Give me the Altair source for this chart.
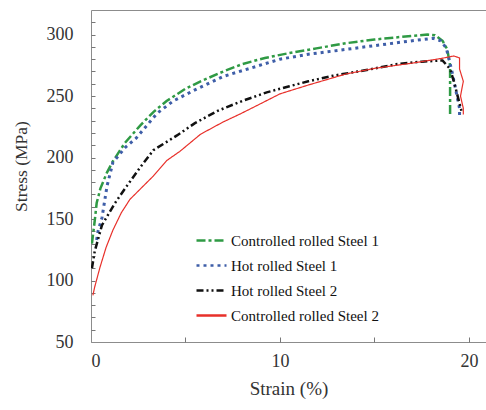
import altair as alt
import pandas as pd

series_names = ["Controlled rolled Steel 1", "Hot rolled Steel 1",
                "Hot rolled Steel 2", "Controlled rolled Steel 2"]
series_colors = ["#2f9a44", "#3e5ea8", "#111111", "#e8302a"]
series_dashes = [[9, 3, 3, 3], [3, 4], [7, 3, 2, 3, 2, 3], [1, 0]]
series_widths = [2.5, 3.0, 2.5, 1.2]

cr1_strain = [0.05, 0.2, 0.3, 0.5, 0.85, 1.16, 1.5, 1.8, 2.6, 3.3, 4.0, 5.0, 5.8, 7.0, 8.0, 9.2,
              10.5, 12.0, 13.5, 15.0, 16.0, 17.0, 17.8, 18.2, 18.6, 18.85, 19.0, 19.0, 19.0]
cr1_stress = [130, 149, 163, 175, 188, 197, 205, 212, 226, 237, 246, 256, 262, 270, 276, 281,
              285, 289, 293, 296, 297.5, 299, 300, 299.5, 295, 288, 275, 255, 235]

hr1_strain = [0.3, 0.37, 0.58, 0.85, 1.16, 1.8, 2.4, 3.5, 4.35, 5.5, 7.0, 8.5, 10.0, 11.5,
              13.5, 15.0, 17.0, 18.1, 18.5, 18.8, 19.1, 19.3, 19.5, 19.5]
hr1_stress = [133, 140, 151, 177, 196, 208, 216, 236, 246, 255, 266, 273, 280, 284,
              288, 291, 295, 297, 295, 289, 270, 255, 240, 232]

hr2_strain = [0.05, 0.2, 0.58, 1.27, 1.9, 2.6, 3.3, 4.55, 5.5, 6.7, 8.0, 9.3, 10.5, 11.5,
              12.8, 14.5, 16.2, 17.5, 18.6, 19.0, 19.2, 19.4, 19.6]
hr2_stress = [110, 124, 145, 163, 177, 192, 206, 218, 228, 238, 246, 253, 258, 262,
              266.5, 271, 276, 278, 279, 272, 262, 250, 238]

cr2_strain = [0.1, 0.2, 0.48, 0.8, 1.16, 1.6, 2.06, 3.3, 4.0, 4.7, 5.8, 7.0, 7.9, 9.0,
              10.0, 11.5, 13.5, 15.0, 17.0, 18.5, 19.2, 19.5, 19.5, 19.7, 19.55, 19.7, 19.7]
cr2_stress = [88, 95, 111, 127, 141, 155, 166, 185, 197.5, 205, 219, 229, 235.5, 244,
              251.8, 259, 268, 272.5, 276.8, 280.5, 282.6, 281, 272, 262, 250, 240, 235]

x_ticks_major = [0, 10, 20]
x_ticks_all = [0, 5, 10, 15, 20]
y_ticks_major = [50, 100, 150, 200, 250, 300]
y_ticks_all = list(range(60, 320, 10))

rows = []
for name, w, xs, ys in zip(series_names, series_widths,
                           [cr1_strain, hr1_strain, hr2_strain, cr2_strain],
                           [cr1_stress, hr1_stress, hr2_stress, cr2_stress]):
    for i, (xv, yv) in enumerate(zip(xs, ys)):
        rows.append({"series": name, "strain": xv, "stress": yv, "idx": i, "w": w})
df = pd.DataFrame(rows)

W, H = 395, 332
FONT = "Liberation Serif"
GRAY = "#8c8c8c"

x_scale = alt.Scale(domain=[0, 20.9], nice=False, zero=False)
y_scale = alt.Scale(domain=[50, 320], nice=False, zero=False)

legend = alt.Legend(orient="none", legendX=104, legendY=214, title=None,
                    labelFont=FONT, labelFontSize=15, labelColor="#111111",
                    symbolType="stroke", symbolSize=900, symbolStrokeWidth=2.5,
                    rowPadding=-10.5, labelOffset=3, padding=0, labelLimit=400)

lines = alt.Chart(df).mark_line(clip=True).encode(
    x=alt.X("strain:Q", scale=x_scale,
            axis=alt.Axis(values=x_ticks_major, ticks=False, grid=False, labelFont=FONT,
                          labelFontSize=18, labelColor="#333333", labelPadding=10,
                          domainColor=GRAY, title="Strain (%)", titleFont=FONT,
                          titleFontSize=19, titleFontWeight="normal", titleColor="#333333",
                          titlePadding=9)),
    y=alt.Y("stress:Q", scale=y_scale,
            axis=alt.Axis(values=y_ticks_major, ticks=False, grid=False, labelFont=FONT,
                          labelFontSize=18, labelColor="#333333", labelPadding=18,
                          domainColor=GRAY, title="Stress (MPa)", titleFont=FONT,
                          titleFontSize=17.5, titleFontWeight="normal", titleColor="#333333",
                          titlePadding=16, titleY=156)),
    color=alt.Color("series:N", scale=alt.Scale(domain=series_names, range=series_colors),
                    legend=legend),
    strokeDash=alt.StrokeDash("series:N", scale=alt.Scale(domain=series_names, range=series_dashes),
                              legend=legend),
    strokeWidth=alt.StrokeWidth("w:Q", scale=None, legend=None),
    order=alt.Order("idx:Q"),
)

ticks_layer = alt.Chart(df).mark_point(opacity=0).encode(
    x=alt.X("strain:Q", scale=x_scale,
            axis=alt.Axis(orient="top", offset=-H, values=x_ticks_all, labels=True,
                          labelOpacity=0, domain=False, grid=False, ticks=True, tickSize=5,
                          tickColor="#777777", tickWidth=1, title=None)),
    y=alt.Y("stress:Q", scale=y_scale,
            axis=alt.Axis(orient="right", offset=-W, values=y_ticks_all, labels=True,
                          labelOpacity=0, domain=False, grid=False, ticks=True, tickSize=4,
                          tickColor="#777777", tickWidth=1, title=None)),
)

frame_layer = alt.Chart(df).mark_point(opacity=0).encode(
    x=alt.X("strain:Q", scale=x_scale,
            axis=alt.Axis(orient="top", labels=False, ticks=False, grid=False,
                          domainColor=GRAY, title=None)),
    y=alt.Y("stress:Q", scale=y_scale, axis=None),
)

chart = alt.layer(lines, ticks_layer, frame_layer).resolve_scale(
    x="independent", y="independent"
).resolve_axis(
    x="independent", y="independent"
).properties(
    width=W, height=H, autosize="none",
    padding={"left": 91, "top": 10, "right": 0, "bottom": 68},
    background="white",
).configure_view(strokeWidth=0)

chart.save("out.html", embed_options={"renderer": "svg", "actions": False})
